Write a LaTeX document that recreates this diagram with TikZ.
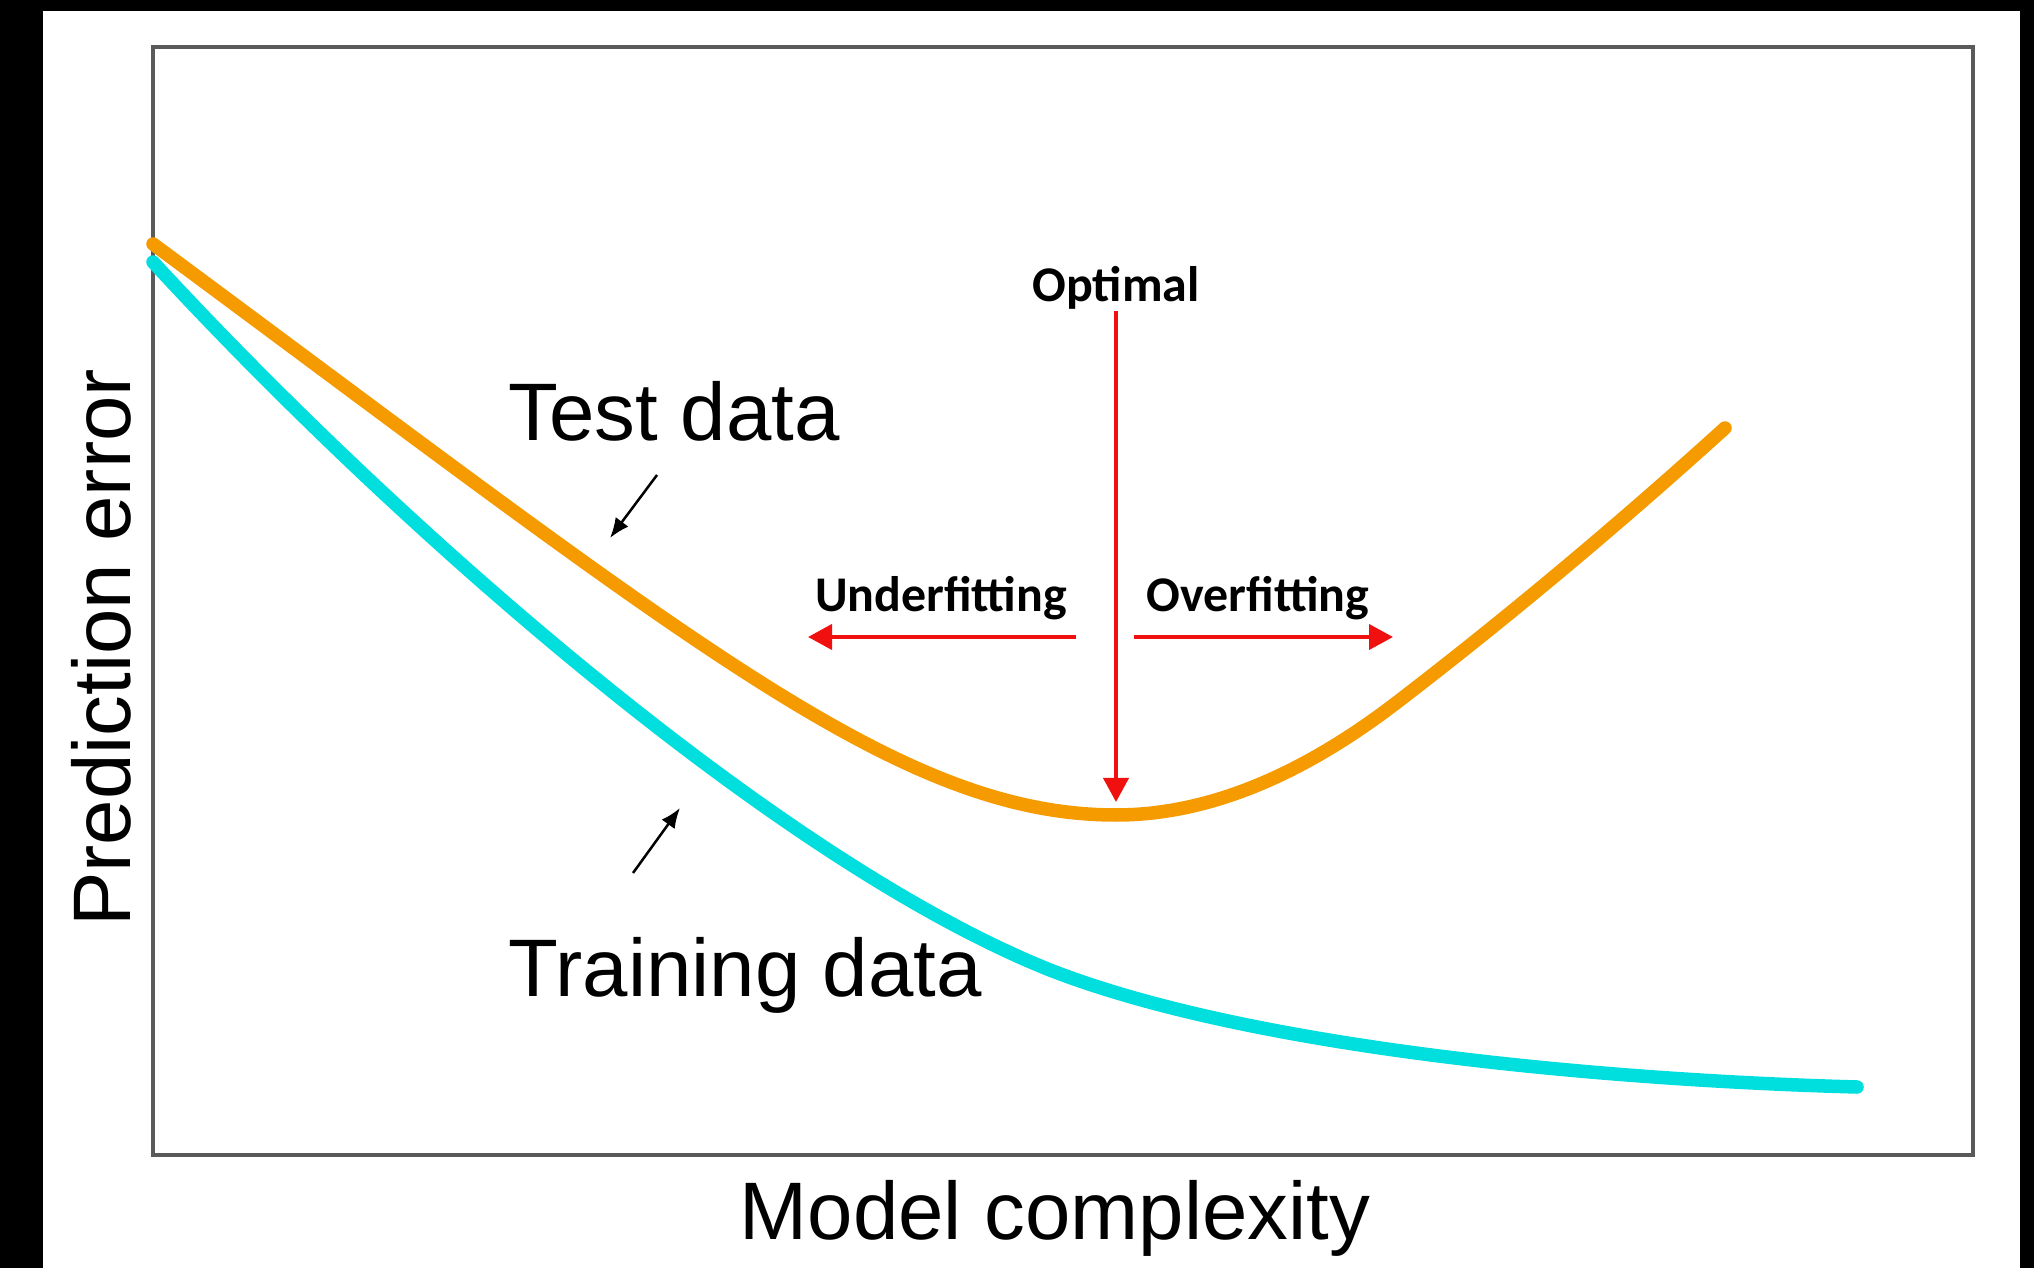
\documentclass[tikz,border=0pt]{standalone}
\usepackage{fontspec}
\setmainfont{Liberation Sans}
\newfontfamily\carlito{Carlito}
\usetikzlibrary{arrows.meta}

\definecolor{testcol}{RGB}{245,155,0}
\definecolor{traincol}{RGB}{0,222,222}
\definecolor{fitred}{RGB}{240,16,16}
\definecolor{framegray}{RGB}{90,90,90}

\tikzset{
  axislabel/.style={font=\fontsize{23.2}{28}\selectfont, inner sep=0pt},
  fitlabel/.style={font=\carlito\bfseries\fontsize{14.2}{17}\selectfont, inner sep=0pt},
  curve/.style={line width=0.135cm, line cap=round},
  fitarrow/.style={fitred, line width=0.04cm, -{Triangle[length=0.24cm,width=0.25cm]}},
  pointer/.style={line width=0.025cm, -{Latex[length=0.2cm,width=0.16cm]}}
}

\begin{document}
\begin{tikzpicture}[x=0.01cm,y=-0.01cm]

\useasboundingbox (0,0) rectangle (2034,1268);
\fill [black] (0,0) rectangle (2034,1268);
\fill [white] (43,11) rectangle (2020,1268);
\draw [framegray, line width=0.045cm] (153,47) rectangle (1973,1155);

% error curves
\draw [curve, traincol] (153,262) .. controls (400,530) and (780,862) .. (1050,970)
  .. controls (1250,1048) and (1600,1080) .. (1857,1087);
\draw [curve, testcol] (153,244) .. controls (695,645) and (900,815) .. (1116,815)
  .. controls (1230,815) and (1330,754) .. (1400,700)
  .. controls (1530,600) and (1640,505) .. (1725,428);

\node [axislabel, rotate=90, anchor=base] (yaxis) at (130,648) {Prediction error};
\node [axislabel, anchor=base] (xaxis) at (1055,1239) {Model complexity};
\node [axislabel, anchor=base west] (testlbl) at (508,441) {Test data};
\node [axislabel, anchor=base west] (trainlbl) at (508,996) {Training data};

\node [fitlabel, anchor=base] (optimal) at (1116,302) {Optimal};
\node [fitlabel, anchor=base] (under) at (941,612) {Underfitting};
\node [fitlabel, anchor=base] (over) at (1258,612) {Overfitting};

\coordinate (optend) at (1116,802);
\coordinate (understart) at (1076,637);
\coordinate (underend) at (808,637);
\coordinate (overstart) at (1134,637);
\coordinate (overend) at (1393,637);
\coordinate (teststart) at (657,475);
\coordinate (testend) at (610,538);
\coordinate (trainstart) at (633,873);
\coordinate (trainend) at (680,808);

\draw [fitarrow] (optimal.south) -- (optend);
\draw [fitarrow] (understart) -- (underend);
\draw [fitarrow] (overstart) -- (overend);
\draw [pointer] (teststart) -- (testend);
\draw [pointer] (trainstart) -- (trainend);
\end{tikzpicture}
\end{document}
